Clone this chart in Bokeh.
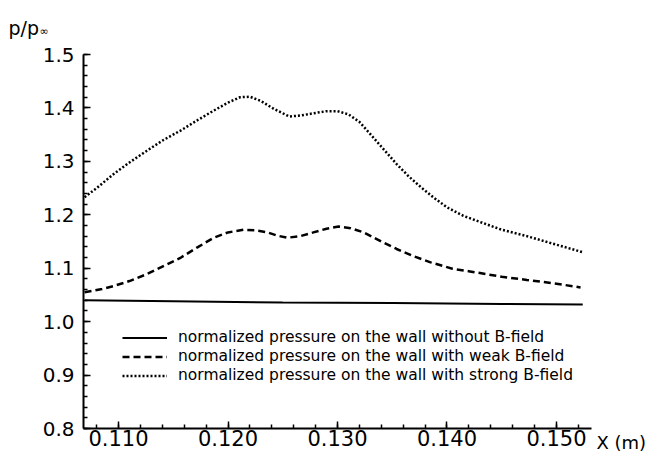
from bokeh.plotting import figure
from bokeh.models import Range1d, Label, Legend, LegendItem, PrintfTickFormatter, FixedTicker
from bokeh.embed import file_html
from bokeh.resources import INLINE

# ---- data ----
x_none = [0.1069, 0.1150, 0.1250, 0.1350, 0.1450, 0.1524]
p_none = [1.040, 1.038, 1.036, 1.035, 1.033, 1.032]

x_weak = [0.1069, 0.1085, 0.1096, 0.1110, 0.1126, 0.1141, 0.1157, 0.1172, 0.1187,
          0.1200, 0.1214, 0.1225, 0.1236, 0.1245, 0.1254, 0.1266, 0.1278, 0.1290,
          0.1301, 0.1312, 0.1324, 0.1340, 0.1354, 0.1370, 0.1385, 0.1405, 0.1421,
          0.1450, 0.1473, 0.1500, 0.1522]
p_weak = [1.055, 1.061, 1.067, 1.076, 1.089, 1.104, 1.120, 1.139, 1.157,
          1.167, 1.172, 1.171, 1.167, 1.161, 1.157, 1.160, 1.167, 1.174,
          1.178, 1.175, 1.167, 1.150, 1.136, 1.122, 1.111, 1.099, 1.094,
          1.084, 1.078, 1.071, 1.064]

x_strong = [0.1069, 0.1080, 0.1096, 0.1110, 0.1126, 0.1141, 0.1157, 0.1172, 0.1187,
            0.1200, 0.1211, 0.1220, 0.1230, 0.1242, 0.1256, 0.1267, 0.1278, 0.1290,
            0.1300, 0.1310, 0.1320, 0.1330, 0.1342, 0.1354, 0.1365, 0.1376, 0.1388,
            0.1400, 0.1415, 0.1431, 0.1450, 0.1473, 0.1500, 0.1524]
p_strong = [1.233, 1.250, 1.277, 1.298, 1.320, 1.340, 1.358, 1.377, 1.395,
            1.410, 1.420, 1.421, 1.413, 1.398, 1.384, 1.386, 1.390, 1.394,
            1.394, 1.388, 1.374, 1.351, 1.323, 1.295, 1.272, 1.252, 1.232,
            1.214, 1.198, 1.186, 1.172, 1.160, 1.144, 1.130]

x_ticks = [0.110, 0.120, 0.130, 0.140, 0.150]
y_ticks = [0.8, 0.9, 1.0, 1.1, 1.2, 1.3, 1.4, 1.5]
legend_labels = ["normalized pressure on the wall without B-field",
                 "normalized pressure on the wall with weak B-field",
                 "normalized pressure on the wall with strong B-field"]

FONT = "DejaVu Sans"
X0, X1 = 0.1068, 0.1532
Y0, Y1 = 0.8, 1.5

p = figure(width=650, height=452, output_backend="svg", toolbar_location=None,
           x_range=Range1d(X0, X1), y_range=Range1d(Y0, Y1),
           min_border_left=83, min_border_right=59, min_border_top=54,
           min_border_bottom=24)
p.outline_line_color = None
p.grid.visible = False
p.background_fill_color = "white"

for ax in (p.xaxis[0], p.yaxis[0]):
    ax.axis_line_width = 2
    ax.axis_line_color = "black"
    ax.major_tick_in = 7
    ax.major_tick_out = 0
    ax.minor_tick_in = 4
    ax.minor_tick_out = 0
    ax.major_tick_line_width = 1.5
    ax.minor_tick_line_width = 1.5
    ax.major_tick_line_color = "black"
    ax.minor_tick_line_color = "black"
    ax.major_label_text_font = FONT
    ax.major_label_text_color = "black"

p.xaxis[0].ticker = FixedTicker(ticks=x_ticks,
                                minor_ticks=[round(0.108 + 0.002 * i, 4) for i in range(24)])
p.yaxis[0].ticker = FixedTicker(ticks=y_ticks,
                                minor_ticks=[round(0.8 + 0.02 * i, 3) for i in range(36)])
p.xaxis[0].formatter = PrintfTickFormatter(format="%.3f")
p.yaxis[0].formatter = PrintfTickFormatter(format="%.1f")
p.xaxis[0].major_label_text_font_size = "21px"
p.yaxis[0].major_label_text_font_size = "20px"
p.xaxis[0].major_label_standoff = 1
p.yaxis[0].major_label_standoff = 9

r1 = p.line(x_none, p_none, line_color="black", line_width=2)
r2 = p.line(x_weak, p_weak, line_color="black", line_width=2.5, line_dash="7 4")
r3 = p.line(x_strong, p_strong, line_color="black", line_width=2.5, line_dash="2 2")

legend = Legend(items=[LegendItem(label=legend_labels[0], renderers=[r1]),
                       LegendItem(label=legend_labels[1], renderers=[r2]),
                       LegendItem(label=legend_labels[2], renderers=[r3])],
                location=(39, 44), orientation="vertical",
                glyph_width=45, glyph_height=17, label_height=17,
                label_standoff=11, spacing=1, padding=0, margin=0,
                border_line_color=None, background_fill_alpha=0,
                label_text_font=FONT, label_text_font_size="15.5px",
                label_text_color="black")
p.add_layout(legend, "center")

# axis captions placed in side panels (not clipped to the frame)
p.add_layout(Label(x=X0, y=Y1, x_offset=-75, y_offset=27, text="p/p",
                   text_font=FONT, text_font_size="19px", text_color="black",
                   text_baseline="alphabetic"), "above")
p.add_layout(Label(x=X0, y=Y1, x_offset=-44, y_offset=23, text="∞",
                   text_font=FONT, text_font_size="11px", text_color="black",
                   text_baseline="alphabetic"), "above")
p.add_layout(Label(x=X1, y=Y0, x_offset=5, y_offset=-14, text="X (m)",
                   text_font=FONT, text_font_size="18px", text_color="black",
                   text_baseline="alphabetic"), "right")

open("out.html", "w").write(file_html(p, INLINE))
